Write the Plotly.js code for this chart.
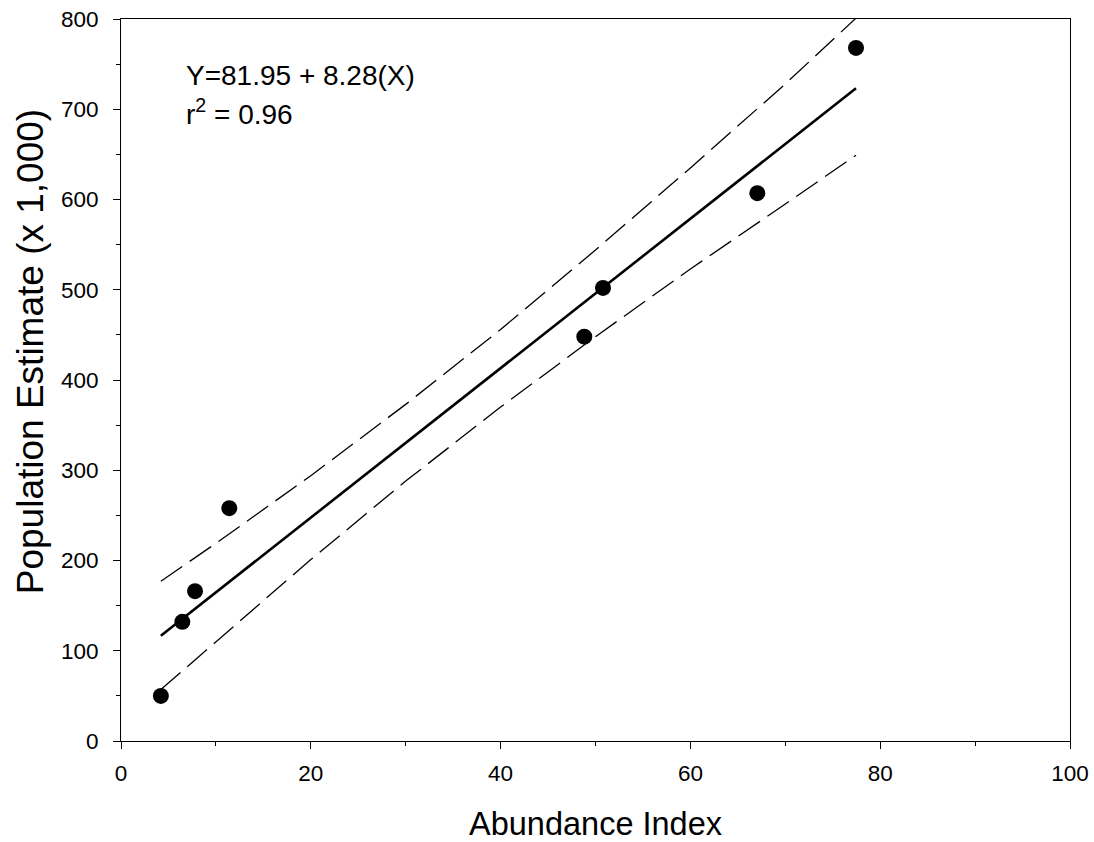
<!DOCTYPE html>
<html>
<head>
<meta charset="utf-8">
<script src="https://cdn.plot.ly/plotly-3.0.1.min.js"></script>
<style>html,body{margin:0;padding:0;background:#fff;}#chart{width:1094px;height:842px;}</style>
</head>
<body>
<div id="chart"></div>
<script>
// Observed data
const abundanceIndex = [4.2, 6.46, 7.8, 11.41, 48.82, 50.79, 67.05, 77.45];
const populationEstimate = [50, 132, 166, 258, 448, 502, 607, 768];

// Regression line end points (Y = 81.95 + 8.28 X)
const fitX = [4.2, 77.45];
const fitY = [116.7, 723.2];

// Confidence band
const bandX = [4.2, 10, 20, 30, 40, 50, 60, 70, 77.45];
const bandUpper = [177, 219, 294, 373, 456, 544, 635, 728, 801];
const bandLower = [57, 110, 201, 288, 370, 448, 523, 595, 649];

const xTicks = [0, 20, 40, 60, 80, 100];
const yTicks = [0, 100, 200, 300, 400, 500, 600, 700, 800];

const font = "Arial, 'Liberation Sans', sans-serif";

const traces = [
  {x: bandX, y: bandUpper, mode: 'lines', type: 'scatter',
   line: {color: '#000', width: 1.3, dash: '26px,9px'}, hoverinfo: 'skip'},
  {x: bandX, y: bandLower, mode: 'lines', type: 'scatter',
   line: {color: '#000', width: 1.3, dash: '26px,9px'}, hoverinfo: 'skip'},
  {x: fitX, y: fitY, mode: 'lines', type: 'scatter',
   line: {color: '#000', width: 2.6}},
  {x: abundanceIndex, y: populationEstimate, mode: 'markers', type: 'scatter',
   marker: {color: '#000', size: 16}, cliponaxis: false}
];

const axisCommon = {
  showline: true, linecolor: '#000', linewidth: 1, mirror: true,
  showgrid: false, zeroline: false, ticks: 'outside', ticklen: 7, tickwidth: 1,
  tickcolor: '#000', tickfont: {family: font, size: 22.5, color: '#000'},
  minor: {ticks: 'outside', ticklen: 4, tickwidth: 1, tickcolor: '#000', showgrid: false}
};

const layout = {
  width: 1094, height: 842,
  margin: {l: 121, r: 24, t: 19, b: 101},
  paper_bgcolor: '#fff', plot_bgcolor: '#fff',
  showlegend: false,
  font: {family: font, color: '#000'},
  xaxis: Object.assign({}, axisCommon, {
    range: [0, 100], tickmode: 'array', tickvals: xTicks, ticktext: xTicks.map(String),
    ticklabelstandoff: 5,
    minor: Object.assign({}, axisCommon.minor, {dtick: 10, tick0: 0}),
    title: {text: 'Abundance Index', font: {family: font, size: 32.5, color: '#000'}, standoff: 30}
  }),
  yaxis: Object.assign({}, axisCommon, {
    range: [0, 800], tickmode: 'array', tickvals: yTicks, ticktext: yTicks.map(String),
    ticklabelstandoff: 10,
    minor: Object.assign({}, axisCommon.minor, {dtick: 50, tick0: 0})
  }),
  annotations: [
    {x: -0.0955, y: 0.539, xref: 'paper', yref: 'paper', xanchor: 'center', yanchor: 'middle',
     textangle: -90, text: 'Population Estimate (x 1,000)', showarrow: false,
     font: {family: font, size: 37, color: '#000'}},
    {x: 6.65, y: 737, xref: 'x', yref: 'y', xanchor: 'left', yanchor: 'middle',
     text: 'Y=81.95 + 8.28(X)', showarrow: false, font: {family: font, size: 28, color: '#000'}},
    {x: 6.65, y: 697, xref: 'x', yref: 'y', xanchor: 'left', yanchor: 'middle',
     text: 'r<sup>2</sup> = 0.96', showarrow: false, font: {family: font, size: 28, color: '#000'}}
  ]
};

Plotly.newPlot('chart', traces, layout, {displayModeBar: false, staticPlot: true});
</script>
</body>
</html>
